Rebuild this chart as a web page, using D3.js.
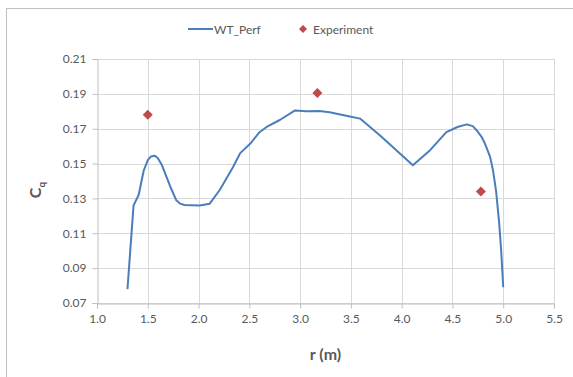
<!DOCTYPE html>
<html>
<head>
<meta charset="utf-8">
<script src="https://cdn.jsdelivr.net/npm/d3@7"></script>
<style>
  body { margin: 0; background: #fff; }
  text { font-family: Lato, "Open Sans", sans-serif; }
</style>
</head>
<body>
<div id="chart"></div>
<script>
var width = 573;
var height = 377;

// WT_Perf curve (r in m, Cq)
var perfR = [1.30, 1.36, 1.41, 1.46, 1.50, 1.53, 1.57, 1.60, 1.64, 1.72, 1.78, 1.82, 1.86, 2.01, 2.11, 2.21, 2.34, 2.41,
             2.51, 2.60, 2.67, 2.80, 2.95, 3.06, 3.19, 3.29, 3.49, 3.59, 3.79, 4.11, 4.28, 4.44, 4.55, 4.64, 4.70, 4.74,
             4.79, 4.82, 4.87, 4.90, 4.93, 4.96, 4.98, 5.00];
var perfCq = [0.078, 0.126, 0.132, 0.146, 0.152, 0.154, 0.1545, 0.153, 0.149, 0.137, 0.129, 0.127, 0.1262, 0.126, 0.127, 0.135, 0.148, 0.156,
              0.1615, 0.168, 0.171, 0.175, 0.1805, 0.180, 0.1802, 0.1795, 0.177, 0.1758, 0.166, 0.149, 0.1577, 0.168, 0.171, 0.1725, 0.1715, 0.169,
              0.165, 0.1615, 0.154, 0.146, 0.134, 0.116, 0.100, 0.079];

// Experiment points
var expR = [1.5, 3.17, 4.78];
var expCq = [0.178, 0.1905, 0.134];

var xTicks = [1.0, 1.5, 2.0, 2.5, 3.0, 3.5, 4.0, 4.5, 5.0, 5.5];
var yTicks = [0.07, 0.09, 0.11, 0.13, 0.15, 0.17, 0.19, 0.21];

var lineColor = "#4a7ebb";
var markColor = "#be4b48";
var textColor = "#595959";

var svg = d3.select("#chart")
  .append("svg")
    .attr("width", width)
    .attr("height", height);

// outer chart frame (right and bottom edges fall outside the picture)
svg.append("rect")
  .attr("x", 6.5).attr("y", 8.5)
  .attr("width", 580).attr("height", 380)
  .attr("fill", "#fff")
  .attr("stroke", "#bfbfbf");

var x = d3.scaleLinear().domain([1.0, 5.5]).range([97, 554]);
var y = d3.scaleLinear().domain([0.07, 0.21]).range([303, 59]);

// gridlines
svg.append("g").selectAll("line.h")
  .data(yTicks)
  .join("line")
    .attr("x1", x(1.0)).attr("x2", x(5.5))
    .attr("y1", d => Math.round(y(d)) + 0.5).attr("y2", d => Math.round(y(d)) + 0.5)
    .attr("stroke", "#d9d9d9");
svg.append("g").selectAll("line.v")
  .data(xTicks.slice(1))
  .join("line")
    .attr("x1", d => Math.round(x(d)) + 0.5).attr("x2", d => Math.round(x(d)) + 0.5)
    .attr("y1", y(0.21)).attr("y2", y(0.07))
    .attr("stroke", "#d9d9d9");

// axes
var xAxis = svg.append("g")
  .attr("transform", "translate(0," + (Math.round(y(0.07)) + 0.5) + ")")
  .call(d3.axisBottom(x).tickValues(xTicks).tickFormat(d3.format(".1f")).tickSize(5).tickPadding(6));
var yAxis = svg.append("g")
  .attr("transform", "translate(" + (Math.round(x(1.0)) + 0.5) + ",0)")
  .call(d3.axisLeft(y).tickValues(yTicks).tickFormat(d3.format(".2f")).tickSize(5).tickPadding(6));

[xAxis, yAxis].forEach(function(a) {
  a.select(".domain").attr("stroke", "#bfbfbf");
  a.selectAll(".tick line").attr("stroke", "#bfbfbf");
  a.selectAll(".tick text")
    .attr("fill", textColor)
    .style("font-size", "12px")
    .style("font-family", "Lato, 'Open Sans', sans-serif");
});

// WT_Perf line
var perf = perfR.map((r, i) => [r, perfCq[i]]);
svg.append("path")
  .datum(perf)
  .attr("fill", "none")
  .attr("stroke", lineColor)
  .attr("stroke-width", 2)
  .attr("stroke-linejoin", "round")
  .attr("d", d3.line().x(d => x(d[0])).y(d => y(d[1])));

// Experiment diamonds
svg.append("g").selectAll("path")
  .data(expR.map((r, i) => [r, expCq[i]]))
  .join("path")
    .attr("d", d3.symbol().type(d3.symbolSquare).size(50))
    .attr("transform", d => "translate(" + x(d[0]) + "," + y(d[1]) + ") rotate(45)")
    .attr("fill", markColor);

// axis titles
svg.append("text")
  .attr("x", (x(1.0) + x(5.5)) / 2).attr("y", 360)
  .attr("text-anchor", "middle")
  .attr("fill", textColor)
  .style("font-size", "16px").style("font-weight", "bold")
  .text("r (m)");

var yt = svg.append("text")
  .attr("transform", "translate(41,190) rotate(-90)")
  .attr("text-anchor", "middle")
  .attr("fill", textColor)
  .style("font-size", "16px").style("font-weight", "bold");
yt.append("tspan").text("C");
yt.append("tspan").attr("dy", 4).style("font-size", "10px").text("q");

// legend
var leg = svg.append("g");
leg.append("line")
  .attr("x1", 188).attr("x2", 213).attr("y1", 29).attr("y2", 29)
  .attr("stroke", lineColor).attr("stroke-width", 2);
leg.append("text")
  .attr("x", 214).attr("y", 33.5)
  .attr("fill", textColor).style("font-size", "12px")
  .text("WT_Perf");
leg.append("path")
  .attr("transform", "translate(303,29) rotate(45)")
  .attr("d", d3.symbol().type(d3.symbolSquare).size(32))
  .attr("fill", markColor);
leg.append("text")
  .attr("x", 313).attr("y", 33.5)
  .attr("fill", textColor).style("font-size", "12px")
  .text("Experiment");
</script>
</body>
</html>
